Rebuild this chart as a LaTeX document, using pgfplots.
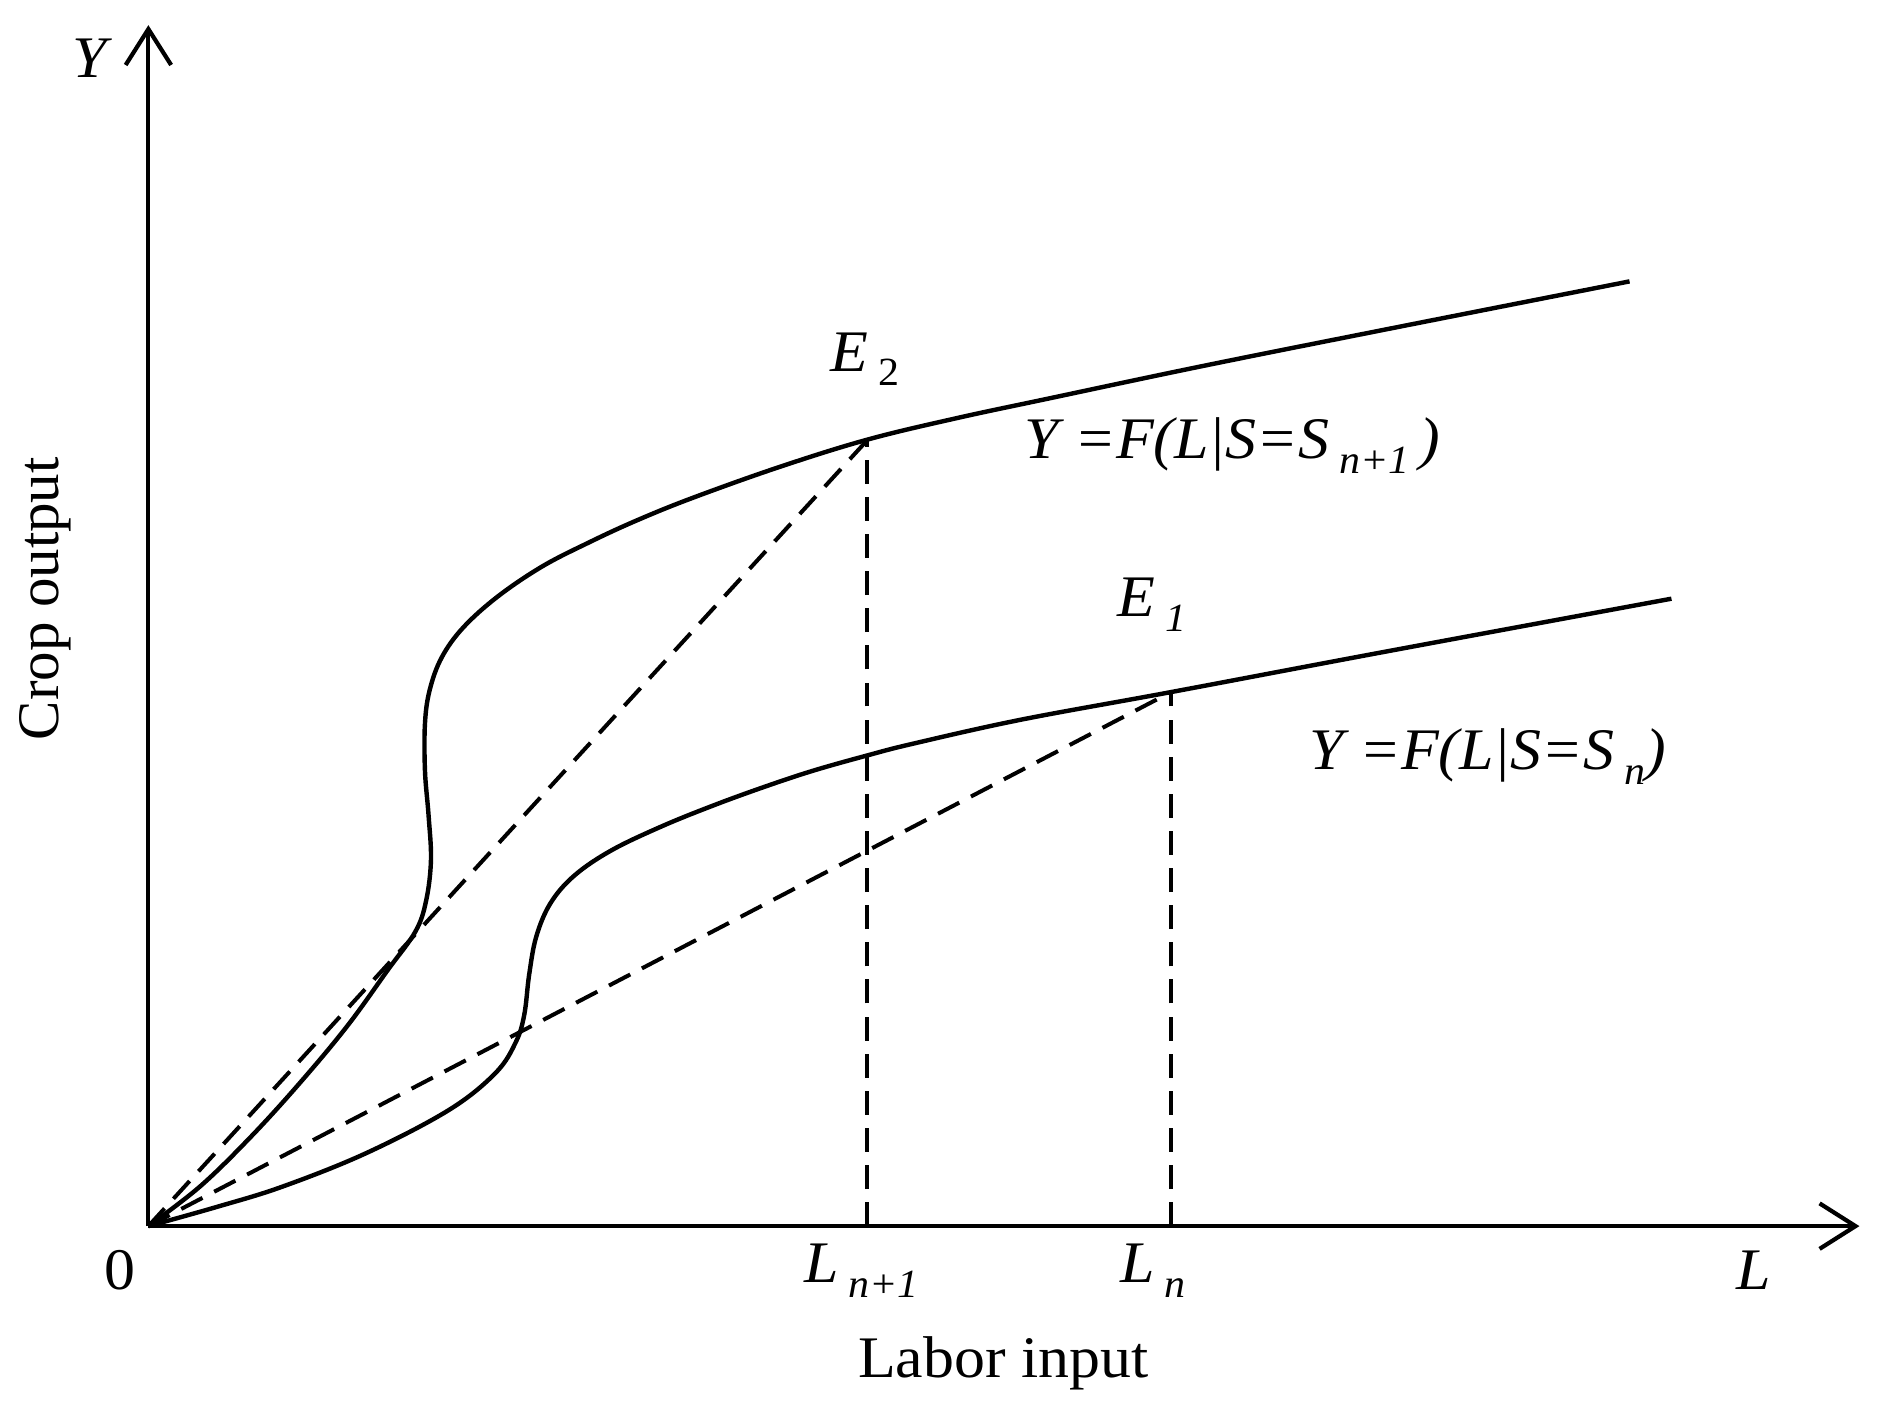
\documentclass[border=0pt]{standalone}
\usepackage{fontspec}
\setmainfont{Liberation Serif}[FakeStretch=1.05]
\newfontfamily\vfont{Liberation Serif}
\usepackage{pgfplots}
\pgfplotsset{compat=1.18}
\usetikzlibrary{arrows.meta}
\newcommand\sub[1]{\,\raisebox{-0.25em}{\fontsize{9.5}{10}\selectfont\itshape #1}}
\begin{document}
\fontsize{14}{16}\selectfont
\begin{tikzpicture}
\begin{axis}[
  x=0.1mm, y=0.1mm,
  xmin=-121, xmax=1447, ymin=-157, ymax=1024,
  hide axis, clip=false,
]
\path (axis cs:-121,-157) rectangle (axis cs:1447,1024);
% axes
\addplot[line width=1pt, -{Straight Barb[length=3mm,width=3.8mm,line width=1pt]}] coordinates {(0,0) (1429,0)};
\addplot[line width=1pt, -{Straight Barb[length=3mm,width=3.8mm,line width=1pt]}] coordinates {(0,0) (0,1003)};
% upper curve S_{n+1}
\addplot[line width=1.05pt, smooth, tension=0.6] coordinates {
(0,0) (43,33) (85,74) (126,119) (166,167) (200,214) (223,246) (232,272) (236,306)
(234,343) (231,380) (231,420) (235,448) (245,475) (263,500) (292,526) (329,551)
(368,571) (407,589) (454,608) (527,634) (601,657) (676,675) (751,691) (879,718)
(1029,748) (1237,789)};
% lower curve S_n
\addplot[line width=1.05pt, smooth, tension=0.6] coordinates {
(0,0) (57,16) (112,33) (182,61) (251,97) (290,128) (307,154) (314,177) (318,210)
(324,242) (336,270) (356,293) (387,314) (429,334) (471,351) (512,366) (554,380)
(600,393) (639,403) (729,423) (854,446) (1029,479) (1272,524)};
% dashed rays and verticals
\addplot[line width=0.95pt, dash pattern=on 2mm off 1.1mm] coordinates {(0,0) (600,656)};
\addplot[line width=0.95pt, dash pattern=on 2mm off 1.1mm] coordinates {(0,0) (854,446)};
\addplot[line width=0.95pt, dash pattern=on 2mm off 1.1mm] coordinates {(600,0) (600,656)};
\addplot[line width=0.95pt, dash pattern=on 2mm off 1.1mm] coordinates {(854,0) (854,446)};
% labels
\node at (axis cs:-49,975) {\itshape Y};
\node at (axis cs:-24,-37) {0};
\node[anchor=west, inner sep=0pt] at (axis cs:547,-37) {\itshape L\sub{n+1}};
\node[anchor=west, inner sep=0pt] at (axis cs:811,-37) {\itshape L\sub{n}};
\node at (axis cs:1341,-37) {\itshape L};
\node at (axis cs:714,-115) {Labor input};
\node[rotate=90] at (axis cs:-86,524) {\vfont Crop output};
\node[anchor=west, inner sep=0pt] at (axis cs:569,724) {\itshape E\sub{\upshape 2}};
\node[anchor=west, inner sep=0pt] at (axis cs:809,519) {\itshape E\sub{1}};
\node[anchor=west, inner sep=0pt] at (axis cs:731,652) {\itshape Y =F(L|S=S\sub{n+1}\,)};
\node[anchor=west, inner sep=0pt] at (axis cs:969,392) {\itshape Y =F(L|S=S\sub{n})};
\end{axis}
\end{tikzpicture}
\end{document}
